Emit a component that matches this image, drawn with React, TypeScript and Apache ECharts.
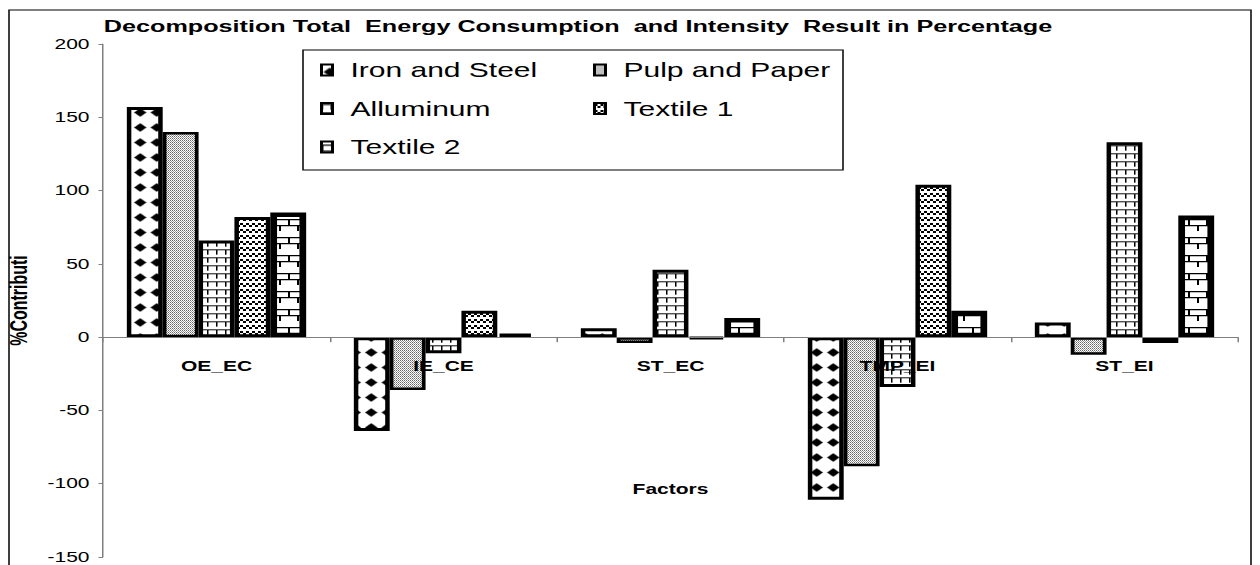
import React, { useEffect, useRef } from 'react';
import * as echarts from 'echarts';

// ---- data ----
const categories = ['OE_EC', 'IE_CE', 'ST_EC', 'TMP_EI', 'ST_EI'];
const seriesNames = ['Iron and Steel', 'Pulp and Paper', 'Alluminum', 'Textile 1', 'Textile 2'];
const ironSteel = [157, -64, 6, -111, 10];
const pulpPaper = [140, -36, -4, -88, -12];
const alluminum = [66, -11, 46, -34, 133];
const textile1 = [82, 18, -1, 104, -4];
const textile2 = [85, 2, 13, 18, 83];
const yMin = -150;
const yMax = 200;
const yInterval = 50;

const titleText = 'Decomposition Total  Energy Consumption  and Intensity  Result in Percentage';
const yName = '%Contributi';
const xName = 'Factors';

// horizontal stretch of the reference picture
const SX = 1.5;
const W = 1260 / SX;
const H = 565;
const FONT = '"Liberation Sans", Arial, sans-serif';
const GRID_TOP = 44;
const GRID_BOTTOM = 8;

type Draw = (ctx: CanvasRenderingContext2D, w: number, h: number) => void;

// w, h in screen pixels; R = canvas pixels per screen pixel
function makePattern(w: number, h: number, R: number, draw: Draw) {
  const c = document.createElement('canvas');
  c.width = Math.round(w * R);
  c.height = Math.round(h * R);
  const ctx = c.getContext('2d')!;
  ctx.scale(R, R);
  ctx.fillStyle = '#fff';
  ctx.fillRect(0, 0, w, h);
  ctx.fillStyle = '#000';
  draw(ctx, w, h);
  return { image: c, repeat: 'repeat', imageWidth: w / SX, imageHeight: h } as any;
}

export default function App() {
  const ref = useRef<HTMLDivElement>(null);

  useEffect(() => {
    if (!ref.current) return;
    const chart = echarts.init(ref.current, undefined, { renderer: 'svg' });

    const diamond = makePattern(16.5, 15, 2, (ctx) => {
      ctx.beginPath();
      ctx.moveTo(8.25, 1);
      ctx.lineTo(14.25, 7.5);
      ctx.lineTo(8.25, 14);
      ctx.lineTo(2.25, 7.5);
      ctx.closePath();
      ctx.fill();
    });
    const grey = makePattern(2, 2, 1, (ctx) => {
      ctx.fillStyle = '#1a1a1a';
      ctx.fillRect(0, 0, 1, 1);
      ctx.fillStyle = '#6a6a6a';
      ctx.fillRect(1, 1, 1, 1);
    });
    const grid = makePattern(9, 8, 2, (ctx) => {
      ctx.fillRect(0, 0, 9, 1.5);
      ctx.fillRect(0, 0, 1.5, 8);
    });
    const checker = makePattern(6, 6, 1, (ctx) => {
      ctx.fillRect(0, 0, 3, 3);
      ctx.fillRect(3, 3, 3, 3);
    });
    const brick = makePattern(18, 18, 1, (ctx) => {
      ctx.fillRect(0, 0, 18, 2);
      ctx.fillRect(0, 9, 18, 2);
      ctx.fillRect(0, 0, 2, 9);
      ctx.fillRect(9, 9, 2, 9);
    });

    const values = [ironSteel, pulpPaper, alluminum, textile1, textile2];
    const fills = [diamond, grey, grid, checker, brick];
    const borders = [3, 2.5, 3, 3, 4.5];

    const series = seriesNames.map((name, i) => ({
      name,
      type: 'bar',
      data: values[i],
      barGap: '0%',
      barCategoryGap: '21%',
      itemStyle: { color: fills[i], borderColor: '#000', borderWidth: borders[i] },
      emphasis: { disabled: true },
    }));

    const legendCommon = {
      orient: 'vertical',
      top: 60,
      padding: 0,
      itemWidth: 11 / SX,
      itemHeight: 11,
      itemGap: 18.5,
      icon: 'rect',
      selectedMode: false,
      itemStyle: { borderColor: '#000', borderWidth: 2 },
      textStyle: { fontFamily: FONT, fontSize: 20, lineHeight: 20, color: '#000', padding: [0, 0, 0, 7] },
    };

    // place the category axis on the value 0, measured from the grid's bottom edge
    const gridHeight = H - GRID_TOP - GRID_BOTTOM;
    const zeroOffset = -gridHeight * (0 - yMin) / (yMax - yMin);

    chart.setOption({
      animation: false,
      backgroundColor: '#fff',
      grid: {
        left: 103 / SX,
        right: W - 1238 / SX,
        top: GRID_TOP,
        bottom: GRID_BOTTOM,
        containLabel: false,
        outerBoundsMode: 'none',
      },
      legend: [
        { ...legendCommon, left: 320 / SX, data: [seriesNames[0], seriesNames[2], seriesNames[4]] },
        { ...legendCommon, left: 593 / SX, data: [seriesNames[1], seriesNames[3]] },
      ],
      xAxis: {
        type: 'category',
        data: categories,
        z: 3,
        offset: zeroOffset,
        name: xName,
        nameLocation: 'middle',
        nameGap: 145,
        nameTextStyle: { fontFamily: FONT, fontSize: 14, fontWeight: 'bold', color: '#000' },
        axisLine: { show: true, onZero: false, lineStyle: { color: '#808080', width: 1 } },
        axisTick: { show: true, length: 5, interval: 0, lineStyle: { color: '#808080' } },
        axisLabel: { interval: 0, margin: 22, fontFamily: FONT, fontSize: 14, fontWeight: 'bold', color: '#000' },
      },
      yAxis: {
        type: 'value',
        min: yMin,
        max: yMax,
        interval: yInterval,
        name: yName,
        nameLocation: 'middle',
        nameGap: 45,
        nameTextStyle: { fontFamily: FONT, fontSize: 16, fontWeight: 'bold', color: '#000' },
        axisLine: { show: true, lineStyle: { color: '#808080', width: 1 } },
        axisTick: { show: true, length: 3, lineStyle: { color: '#808080' } },
        axisLabel: { margin: 9, fontFamily: FONT, fontSize: 14, color: '#000' },
        splitLine: { show: false },
      },
      graphic: [
        {
          type: 'rect',
          z: -10,
          shape: { x: 9 / SX, y: 10, width: (1251 - 9) / SX, height: 600 },
          style: { fill: 'transparent', stroke: '#000', lineWidth: 1 },
          silent: true,
        },
        {
          type: 'rect',
          z: 0,
          shape: { x: 303 / SX, y: 50, width: (843 - 303) / SX, height: 120 },
          style: { fill: 'transparent', stroke: '#000', lineWidth: 1 },
          silent: true,
        },
        {
          type: 'text',
          x: 578 / SX,
          y: 27,
          style: {
            text: titleText,
            fontFamily: FONT,
            fontSize: 16.8,
            fontWeight: 'bold',
            fill: '#000',
            align: 'center',
            verticalAlign: 'middle',
          },
        },
      ],
      series,
    });

    return () => chart.dispose();
  }, []);

  return (
    <div
      ref={ref}
      style={{
        position: 'fixed',
        left: 0,
        top: 0,
        width: W,
        height: H,
        transform: `scaleX(${SX})`,
        transformOrigin: '0 0',
        background: '#fff',
      }}
    />
  );
}
